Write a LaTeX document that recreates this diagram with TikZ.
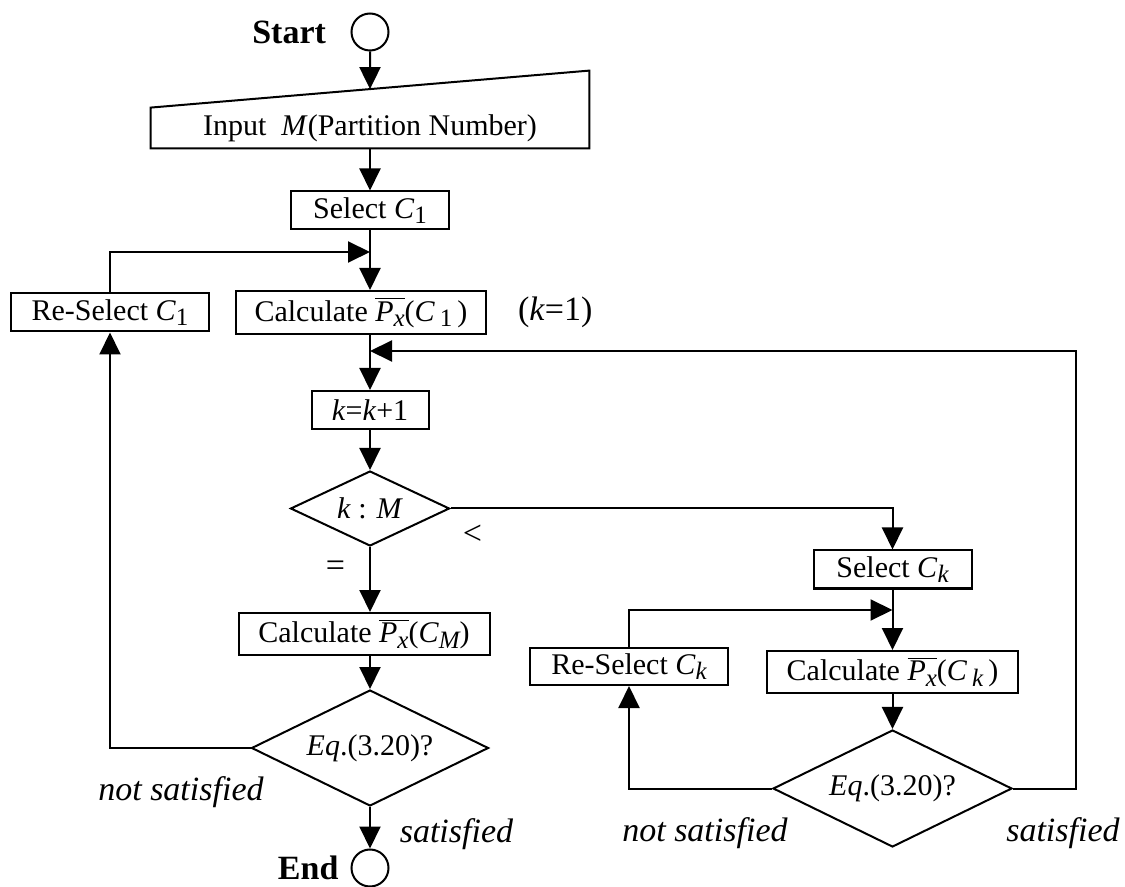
\documentclass[tikz,border=0pt]{standalone}
\usepackage{fontspec}
\setmainfont{Liberation Serif}
\usepackage{tikz}
\usetikzlibrary{arrows.meta,shapes,positioning,calc}
\tikzstyle{block} = [draw, rectangle, line width=1pt, inner sep=0pt,
    minimum height=19pt]
\tikzstyle{decision} = [draw, diamond, aspect=2, line width=1pt, inner sep=0pt]
\tikzstyle{terminal} = [draw, circle, line width=1pt, inner sep=0pt,
    minimum size=18.5pt]
\tikzstyle{note} = [font=\fontsize{17pt}{20pt}\selectfont]
\tikzstyle{line} = [draw, line width=1pt]
\tikzstyle{arr} = [line, -{Triangle[length=11pt,width=10.5pt]}]
\newcommand{\lowsub}[1]{\raisebox{-0.4ex}{\fontsize{12.5pt}{13pt}\selectfont #1}}
\newcommand{\pbar}{$\overline{\mbox{\itshape P\lowsub{x}}}$}

\begin{document}
\begin{tikzpicture}[node distance = 50pt, auto, font=\fontsize{15pt}{18pt}\selectfont]
  \useasboundingbox (0,0) rectangle (562.5pt,-443.5pt);
  \node [terminal] (start) at (185pt,-16pt) {};
  \node [note, left=8.75pt of start] (lstart) {\textbf{Start}};
  \node [below of=start, node distance=48pt, minimum width=219pt,
    minimum height=20pt, inner sep=0pt] (input) {Input\ \ \textit{M}(Partition Number)};
  \coordinate (inNE) at ([yshift=18.5pt]input.north east);
  \draw [line] (input.south west) -- (input.south east) -- (inNE)
    -- (input.north west) -- cycle;
  \coordinate (inTop) at ($(input.north west)!0.5!(inNE)$);
  \node [block, below of=input, node distance=41.25pt, minimum width=79pt] (sel1) {Select \textit{C}\lowsub{1}};
  \coordinate [below of=sel1, node distance=20.75pt] (m1);
  \node [block, below of=sel1, node distance=51pt, xshift=-4.5pt,
    minimum width=125pt, minimum height=21.5pt] (calc1) {Calculate \pbar(\textit{C}\,\lowsub{1}\,)};
  \node [block, left of=calc1, node distance=125.5pt, minimum width=99pt] (resel1) {Re-Select \textit{C}\lowsub{1}};
  \node [note, right=12pt of calc1] (k1) {(\textit{k}=1)};
  \node [block, below of=calc1, node distance=48.75pt, xshift=4.5pt,
    minimum width=58.5pt] (kinc) {\textit{k}=\textit{k}+1};
  \coordinate [above of=kinc, node distance=29.5pt] (m2);
  \node [decision, below of=kinc, node distance=49.25pt, minimum width=79.5pt,
    minimum height=37.5pt] (kdec) {\textit{k} : \textit{M}};
  \node [block, below of=kdec, node distance=62.75pt, xshift=-3pt,
    minimum width=125.5pt, minimum height=21pt] (calcM) {Calculate \pbar(\textit{C}\lowsub{\itshape M})};
  \node [decision, below of=calcM, node distance=57pt, xshift=3pt,
    minimum width=118.5pt, minimum height=58pt] (eq1) {\textit{Eq}.(3.20)?};
  \node [terminal, below of=eq1, node distance=60pt] (end) {};
  \node [note, left=2.5pt of end] (lend) {\textbf{End}};

  % k < M branch
  \node [block, right of=kdec, node distance=261.25pt, yshift=-30.5pt,
    minimum width=79pt] (selk) {Select \textit{C}\lowsub{\itshape k}};
  \coordinate [below of=selk, node distance=20.25pt] (m3);
  \node [block, below of=selk, node distance=51.25pt, minimum width=125.5pt,
    minimum height=21pt] (calck) {Calculate \pbar(\textit{C}\,\lowsub{\itshape k}\,)};
  \node [block, left of=calck, node distance=131.75pt, yshift=2.75pt,
    minimum width=99pt, minimum height=18.5pt] (reselk) {Re-Select \textit{C}\lowsub{\itshape k}};
  \node [decision, below of=calck, node distance=58.25pt, minimum width=119.5pt,
    minimum height=58.5pt] (eqk) {\textit{Eq}.(3.20)?};

  \node [note] at ([xshift=11pt,yshift=-13.25pt]kdec.east) (lless) {<};
  \node [note] at ([xshift=-17.25pt,yshift=-11pt]kdec.south) (leq) {=};
  \node [note] at ([xshift=-34.75pt,yshift=-22pt]eq1.west) (lns1) {\textit{not satisfied}};
  \node [note] at ([xshift=43.25pt,yshift=-13.5pt]eq1.south) (ls1) {\textit{satisfied}};
  \node [note] at ([xshift=-33.5pt,yshift=-22.25pt]eqk.west) (lnsk) {\textit{not satisfied}};
  \node [note] at ([xshift=25pt,yshift=-22.25pt]eqk.east) (lsk) {\textit{satisfied}};

  \draw [arr] (start) -- (inTop);
  \draw [arr] (input) -- (sel1);
  \draw [line] (sel1) -- (m1);
  \draw [arr] (m1) -- (m1 |- calc1.north);
  \draw [arr] (eq1.west) -| (resel1.south);
  \draw [arr] (resel1.north) |- (m1);
  \draw [line] (m2 |- calc1.south) -- (m2);
  \draw [arr] (m2) -- (kinc);
  \draw [arr] (kinc) -- (kdec);
  \draw [arr] (kdec.east) -| (selk.north);
  \draw [arr] (kdec.south) -- (kdec.south |- calcM.north);
  \draw [arr] (eq1.north |- calcM.south) -- (eq1.north);
  \draw [arr] (eq1) -- (end);
  \draw [line] (selk) -- (m3);
  \draw [arr] (m3) -- (calck);
  \draw [arr] (calck) -- (eqk);
  \draw [arr] (eqk.west) -| (reselk.south);
  \draw [arr] (reselk.north) |- (m3);
  \draw [arr] (eqk.east) -- ++(31.5pt,0) |- (m2);
\end{tikzpicture}
\end{document}
